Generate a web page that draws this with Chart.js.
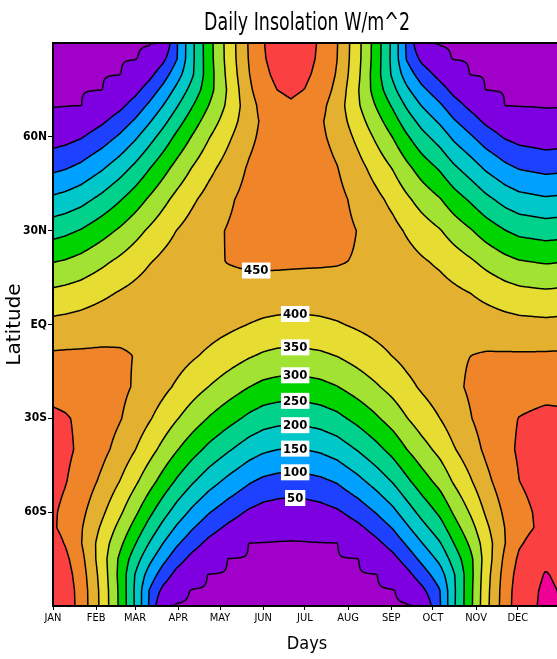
<!DOCTYPE html>
<html>
<head>
<meta charset="utf-8">
<script src="https://cdn.jsdelivr.net/npm/chart.js@4.4.0/dist/chart.umd.min.js"></script>
<style>
html,body{margin:0;padding:0;overflow:hidden;background:#fff;width:557px;height:659px;}
#wrap{position:relative;width:576px;height:659px;}
</style>
</head>
<body>
<div id="wrap"><canvas id="c" width="576" height="659"></canvas></div>
<script>
// ---- data ----
const days = [0,9,20,35,48,59,69,79,89,100,112,126,141,151,161,171,181,192,204,219,232,244,254,265,278,288,300,311,325,335,354,365];
const lats = [90,85,80,75,70,65,60,50,40,30,20,10,0,-10,-20,-30,-40,-50,-60,-65,-70,-75,-80,-85,-90];
// one profile per day in `days`, values from 90N down to 90S (W/m^2)
const insolationByDay = [
  [0,0,0,0,0,4,27,89,160,231,299,361,414,457,488,507,515,512,505,505,519,531,541,547,549],
  [0,0,0,0,0,8,33,97,168,239,305,366,417,458,486,503,508,502,491,488,497,511,521,527,529],
  [0,0,0,0,0,17,46,112,183,253,317,374,422,458,482,494,493,482,463,455,453,466,475,481,482],
  [0,0,0,0,14,42,74,144,214,281,340,390,430,458,473,474,464,441,410,393,378,374,381,386,387],
  [0,0,0,10,38,72,107,178,246,307,361,404,436,455,460,453,433,400,359,335,312,291,286,290,291],
  [0,0,7,36,70,106,142,212,276,333,380,415,439,449,446,430,401,360,310,282,253,223,198,193,194],
  [0,3,35,71,108,144,180,247,306,357,397,425,440,442,430,405,369,321,263,232,199,164,130,100,97],
  [0,38,76,114,150,185,219,282,336,380,412,432,439,432,412,380,336,282,219,185,150,114,76,38,0],
  [96,98,129,163,196,229,261,317,365,401,425,437,435,420,393,353,303,244,178,143,107,70,34,3,0],
  [189,189,193,218,247,276,303,352,392,420,436,439,429,406,371,326,270,207,139,104,69,35,6,0,0],
  [281,280,277,281,301,324,347,387,418,438,445,439,421,391,349,297,237,172,103,69,37,10,0,0,0],
  [370,369,364,357,361,375,392,421,443,453,451,437,411,373,325,268,205,138,71,40,13,0,0,0,0],
  [456,454,449,441,429,430,438,456,466,467,456,433,399,354,300,239,173,106,43,16,0,0,0,0,0],
  [498,496,490,481,468,459,462,472,478,473,458,430,392,344,287,224,158,91,31,8,0,0,0,0,0],
  [518,516,510,500,486,473,474,480,483,476,458,428,388,338,281,217,150,84,25,4,0,0,0,0,0],
  [526,524,518,508,494,480,479,484,485,476,457,427,386,336,277,214,147,81,23,3,0,0,0,0,0],
  [516,514,508,499,485,472,472,479,482,475,456,427,387,338,280,216,150,84,25,4,0,0,0,0,0],
  [495,493,488,478,465,456,459,470,475,471,455,428,390,342,286,223,157,91,31,8,0,0,0,0,0],
  [453,451,446,437,425,427,435,452,463,464,453,430,396,351,298,237,172,105,43,16,0,0,0,0,0],
  [366,365,361,354,357,372,388,417,438,449,447,433,407,369,322,265,203,137,70,39,13,0,0,0,0],
  [278,277,273,278,298,320,342,382,413,432,439,434,416,386,344,293,234,170,102,68,37,10,0,0,0],
  [187,186,191,215,244,272,299,348,387,415,430,433,423,401,366,321,266,204,137,102,68,35,6,0,0],
  [94,97,127,160,194,226,257,313,359,395,419,430,429,414,387,348,299,240,175,141,105,69,34,3,0],
  [0,38,75,112,148,183,216,278,331,375,406,426,432,426,406,375,331,278,216,183,148,112,75,38,0],
  [0,3,34,70,107,142,178,244,303,353,392,420,435,436,425,400,364,317,260,229,196,162,128,98,95],
  [0,0,7,36,70,105,140,209,273,329,376,411,434,444,441,425,396,356,306,279,250,221,195,191,192],
  [0,0,0,10,38,71,106,176,243,304,357,400,431,450,456,448,428,396,355,332,309,288,284,287,288],
  [0,0,0,0,14,41,74,143,213,278,337,387,426,454,468,470,459,437,406,389,374,371,378,382,384],
  [0,0,0,0,0,17,45,112,182,251,315,372,419,455,479,491,490,479,460,452,450,463,472,477,479],
  [0,0,0,0,0,8,33,97,167,237,304,364,415,455,484,501,505,500,489,485,495,509,519,525,527],
  [0,0,0,0,0,3,24,86,156,228,296,358,412,456,488,509,517,516,511,512,528,542,553,559,561],
  [0,0,0,0,0,4,27,89,160,231,299,361,414,457,488,507,515,512,505,505,519,531,541,547,549]
];
const monthTickDays = [0,31,59,90,120,151,181,212,243,273,304,334];
const monthLabels = ['JAN','FEB','MAR','APR','MAY','JUN','JUL','AUG','SEP','OCT','NOV','DEC'];
const latTickValues = [-60,-30,0,30,60];
const latTickLabels = ['60S','30S','EQ','30N','60N'];
const contourLevels = [0,50,100,150,200,250,300,350,400,450,500,550];
const labeledLevels = [50,100,150,200,250,300,350,400,450];
const labelDays     = [174,174,174,174,174,174,174,174,146];
const titleText = 'Daily Insolation W/m^2';

// ---- styles ----
const fillColors = ['#A000C8','#7E00E0','#1E40FF','#00A0FF','#00C8C8','#00D28C','#00D400','#A2E232','#E6DC32','#E4B030','#F08428','#FA4040','#EE0096'];
const NARROW = "'DejaVu Sans Condensed','Liberation Sans Narrow',sans-serif";

function bracket(arr, v) {
  const n = arr.length, asc = arr[n-1] > arr[0];
  if (asc) { if (v <= arr[0]) return [0,0]; if (v >= arr[n-1]) return [n-2,1]; }
  else { if (v >= arr[0]) return [0,0]; if (v <= arr[n-1]) return [n-2,1]; }
  let lo = 0, hi = n-1;
  while (hi - lo > 1) { const m = (lo+hi) >> 1; if ((arr[m] <= v) === asc) lo = m; else hi = m; }
  return [lo, (v - arr[lo]) / (arr[lo+1] - arr[lo])];
}
function valueAt(day, lat) {
  const [i,t] = bracket(days, day), [r,s] = bracket(lats, lat);
  const a = insolationByDay[i], b = insolationByDay[i+1];
  const top = a[r]*(1-t) + b[r]*t, bot = a[r+1]*(1-t) + b[r+1]*t;
  return top*(1-s) + bot*s;
}
function levelThreshold(L) { return L === 0 ? 0.5 : L; }
function colorIndex(v) {
  if (v <= 0.5) return 0;
  return Math.min(fillColors.length-1, 1 + Math.floor(v/50));
}
function hexRgb(h){ return [parseInt(h.slice(1,3),16),parseInt(h.slice(3,5),16),parseInt(h.slice(5,7),16)]; }
const rgbs = fillColors.map(hexRgb);

const contourPlugin = {
  id: 'contour',
  beforeDatasetsDraw(chart) {
    const {ctx, chartArea, scales:{x, y}} = chart;
    const L = Math.round(chartArea.left), T = Math.round(chartArea.top);
    const w = Math.round(chartArea.right) - L, h = Math.round(chartArea.bottom) - T;
    const off = document.createElement('canvas'); off.width = w; off.height = h;
    const octx = off.getContext('2d'); const img = octx.createImageData(w, h);
    const dx = new Array(w), ly = new Array(h);
    for (let i = 0; i < w; i++) dx[i] = x.getValueForPixel(L + i + 0.5);
    for (let j = 0; j < h; j++) ly[j] = y.getValueForPixel(T + j + 0.5);
    for (let j = 0; j < h; j++) for (let i = 0; i < w; i++) {
      const c = rgbs[colorIndex(valueAt(dx[i], ly[j]))], k = (j*w + i)*4;
      img.data[k]=c[0]; img.data[k+1]=c[1]; img.data[k+2]=c[2]; img.data[k+3]=255;
    }
    octx.putImageData(img, 0, 0);
    ctx.drawImage(off, L, T);
  },
  afterDatasetsDraw(chart) {
    const {ctx, chartArea, scales:{x, y}} = chart;
    const step = 2;
    const xs = [], ys = [];
    for (let p = chartArea.left; p < chartArea.right; p += step) xs.push(p);
    xs.push(chartArea.right);
    for (let p = chartArea.top; p < chartArea.bottom; p += step) ys.push(p);
    ys.push(chartArea.bottom);
    const nx = xs.length, ny = ys.length;
    const dv = xs.map(p => x.getValueForPixel(p)), lv = ys.map(p => y.getValueForPixel(p));
    const g = new Float64Array(nx*ny);
    for (let j = 0; j < ny; j++) for (let i = 0; i < nx; i++) g[j*nx+i] = valueAt(dv[i], lv[j]);
    ctx.save();
    ctx.beginPath();
    ctx.rect(chartArea.left, chartArea.top, chartArea.right-chartArea.left, chartArea.bottom-chartArea.top);
    ctx.clip();
    ctx.strokeStyle = '#000'; ctx.lineWidth = 1.5; ctx.lineCap = 'round'; ctx.lineJoin = 'round';
    ctx.beginPath();
    for (const Lv of contourLevels) {
      const lev = levelThreshold(Lv);
      for (let j = 0; j < ny-1; j++) for (let i = 0; i < nx-1; i++) {
        const v0 = g[j*nx+i], v1 = g[j*nx+i+1], v2 = g[(j+1)*nx+i+1], v3 = g[(j+1)*nx+i];
        const code = (v0>lev?8:0)|(v1>lev?4:0)|(v2>lev?2:0)|(v3>lev?1:0);
        if (code === 0 || code === 15) continue;
        const x0 = xs[i], x1 = xs[i+1], y0 = ys[j], y1 = ys[j+1];
        const Tp = () => [x0 + (lev-v0)/(v1-v0)*(x1-x0), y0];
        const Rp = () => [x1, y0 + (lev-v1)/(v2-v1)*(y1-y0)];
        const Bp = () => [x0 + (lev-v3)/(v2-v3)*(x1-x0), y1];
        const Lp = () => [x0, y0 + (lev-v0)/(v3-v0)*(y1-y0)];
        const seg = (a, b) => { ctx.moveTo(a[0], a[1]); ctx.lineTo(b[0], b[1]); };
        switch (code) {
          case 1: case 14: seg(Lp(), Bp()); break;
          case 2: case 13: seg(Bp(), Rp()); break;
          case 3: case 12: seg(Lp(), Rp()); break;
          case 4: case 11: seg(Tp(), Rp()); break;
          case 6: case 9: seg(Tp(), Bp()); break;
          case 7: case 8: seg(Tp(), Lp()); break;
          case 5: seg(Tp(), Lp()); seg(Bp(), Rp()); break;
          case 10: seg(Tp(), Rp()); seg(Lp(), Bp()); break;
        }
      }
    }
    ctx.stroke();
    ctx.restore();
    // frame
    ctx.save();
    ctx.strokeStyle = '#000'; ctx.lineWidth = 2;
    ctx.strokeRect(chartArea.left, chartArea.top, chartArea.right-chartArea.left, chartArea.bottom-chartArea.top);
    ctx.restore();
    // contour labels
    ctx.save();
    ctx.font = 'bold 13px ' + NARROW;
    ctx.textAlign = 'center'; ctx.textBaseline = 'middle';
    labeledLevels.forEach((lev, k) => {
      const d = labelDays[k];
      let prev = valueAt(d, -90), found = null;
      for (let la = -89.9; la <= 90; la += 0.1) {
        const v = valueAt(d, la);
        if (prev < lev && v >= lev) { found = la - 0.1 + 0.1*(lev-prev)/(v-prev); break; }
        prev = v;
      }
      if (found === null) return;
      const px = x.getPixelForValue(d), py = y.getPixelForValue(found);
      const txt = String(lev), tw = ctx.measureText(txt).width;
      ctx.fillStyle = '#fff';
      ctx.fillRect(px - tw/2 - 2, py - 8, tw + 4, 16);
      ctx.fillStyle = '#000';
      ctx.fillText(txt, px, py + 0.5);
    });
    ctx.restore();
  },
  afterDraw(chart) {
    const {ctx, chartArea} = chart;
    ctx.save();
    ctx.fillStyle = '#000';
    ctx.font = '25px ' + NARROW;
    ctx.textAlign = 'center'; ctx.textBaseline = 'alphabetic';
    ctx.fillText(titleText, (chartArea.left + chartArea.right)/2, 30, 206);
    ctx.restore();
  }
};

const nodes = [];
days.forEach((d, i) => lats.forEach((la, r) => nodes.push({x: d, y: la, v: insolationByDay[i][r]})));

new Chart(document.getElementById('c'), {
  type: 'scatter',
  data: { datasets: [{ label: 'Daily Insolation', data: nodes, pointRadius: 0, pointHoverRadius: 0, showLine: false }] },
  options: {
    responsive: false,
    animation: false,
    events: [],
    layout: { padding: { left: 0, right: 15, top: 43, bottom: 0 } },
    plugins: {
      legend: { display: false },
      tooltip: { enabled: false },
      title: { display: false }
    },
    scales: {
      x: {
        type: 'linear', position: 'bottom', min: 0, max: 365,
        afterBuildTicks: s => { s.ticks = monthTickDays.map(v => ({ value: v })); },
        afterFit: s => { s.height = 53; },
        ticks: {
          autoSkip: false, maxRotation: 0, minRotation: 0, padding: 2, color: '#000',
          font: { family: NARROW, size: 11 },
          callback: v => monthLabels[monthTickDays.indexOf(v)]
        },
        grid: { drawOnChartArea: false, drawTicks: true, tickLength: 4, tickColor: '#000', tickWidth: 1 },
        border: { display: false },
        title: { display: true, text: 'Days', color: '#000', font: { family: NARROW, size: 18 }, padding: { top: 4, bottom: 4 } }
      },
      y: {
        type: 'linear', position: 'left', min: -90, max: 90,
        afterBuildTicks: s => { s.ticks = latTickValues.map(v => ({ value: v })); },
        afterFit: s => { s.width = 53; },
        ticks: {
          autoSkip: false, padding: 1, color: '#000',
          font: { family: NARROW, size: 12, weight: 'bold' },
          callback: v => latTickLabels[latTickValues.indexOf(v)]
        },
        grid: { drawOnChartArea: false, drawTicks: true, tickLength: 5, tickColor: '#000', tickWidth: 1 },
        border: { display: false },
        title: { display: true, text: 'Latitude', color: '#000', font: { family: "'DejaVu Sans',sans-serif", size: 20 }, padding: { top: 3, bottom: 0 } }
      }
    }
  },
  plugins: [contourPlugin]
});
</script>
</body>
</html>
